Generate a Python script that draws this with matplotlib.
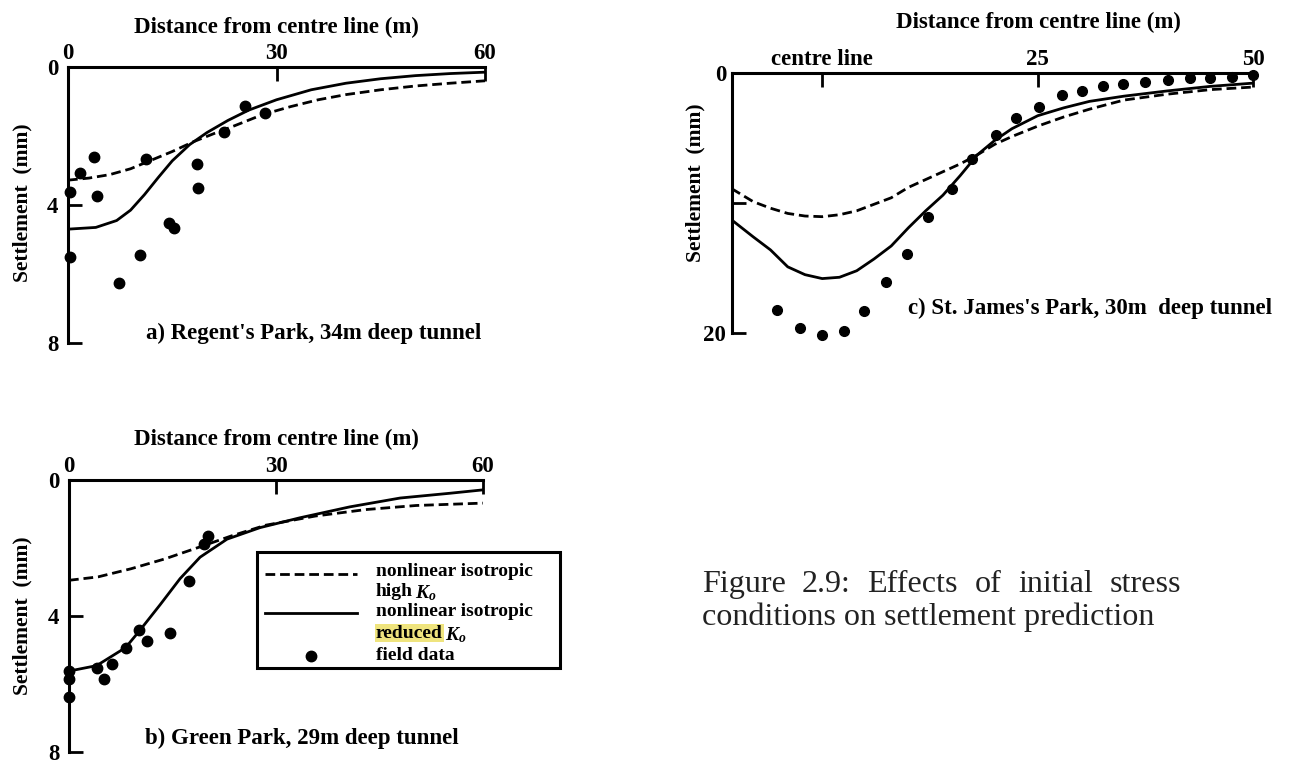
import matplotlib
matplotlib.use("Agg")
import matplotlib.pyplot as plt
from matplotlib.patches import Rectangle

plt.rcParams['font.family'] = ['Liberation Serif', 'DejaVu Serif']
plt.rcParams['font.weight'] = 'bold'
plt.rcParams['mathtext.fontset'] = 'custom'
plt.rcParams['mathtext.it'] = 'Liberation Serif:italic:bold'
plt.rcParams['mathtext.rm'] = 'Liberation Serif:bold'
plt.rcParams['lines.scale_dashes'] = False

# ---------------- data ----------------
# a) Regent's Park
a_solid_x = [0, 4, 7, 9, 11, 13, 15, 17.5, 20, 23, 26, 30, 35, 40, 45, 50, 55, 60]
a_solid_y = [4.7, 4.65, 4.45, 4.15, 3.7, 3.2, 2.72, 2.25, 1.9, 1.55, 1.25, 0.95, 0.66, 0.47, 0.34, 0.25, 0.19, 0.15]
a_dash_x = [0, 3, 6, 9, 12, 15, 18, 21, 24, 28, 32, 36, 40, 45, 50, 55, 60]
a_dash_y = [3.28, 3.22, 3.12, 2.95, 2.7, 2.45, 2.17, 1.93, 1.7, 1.38, 1.15, 0.95, 0.8, 0.66, 0.55, 0.47, 0.4]
a_pts_x = [0.3, 1.7, 3.8, 4.2, 11.2, 0.3, 10.3, 7.3, 14.6, 15.2, 18.5, 18.7, 22.4, 25.5, 28.4]
a_pts_y = [3.62, 3.07, 2.6, 3.74, 2.67, 5.5, 5.45, 6.25, 4.51, 4.68, 2.82, 3.5, 1.89, 1.13, 1.34]

# b) Green Park
b_solid_x = [0, 4, 8.2, 10.2, 13.2, 16.1, 19, 22.9, 27.7, 33.5, 40.7, 48, 55.2, 60]
b_solid_y = [5.62, 5.46, 4.93, 4.44, 3.67, 2.9, 2.27, 1.74, 1.4, 1.11, 0.79, 0.53, 0.39, 0.29]
b_dash_x = [0, 4.2, 9, 13.9, 18.8, 23.6, 28.5, 35.7, 43, 50.3, 60]
b_dash_y = [2.95, 2.85, 2.61, 2.32, 1.98, 1.64, 1.33, 1.06, 0.87, 0.75, 0.68]
b_pts_x = [0, 0, 0, 4.0, 5.1, 6.2, 8.2, 10.2, 11.3, 14.7, 17.4, 19.6, 20.2]
b_pts_y = [5.62, 5.85, 6.38, 5.53, 5.85, 5.41, 4.93, 4.41, 4.73, 4.5, 2.98, 1.88, 1.66]

# c) St. James's Park
c_solid_x = [-10.5, -8, -6, -4, -2, 0, 2, 4, 6, 8, 10, 12, 14, 16, 18, 20, 22, 25, 28, 31, 35, 40, 45, 50]
c_solid_y = [11.3, 12.6, 13.6, 14.9, 15.5, 15.8, 15.7, 15.2, 14.3, 13.3, 11.9, 10.6, 9.4, 7.9, 6.3, 5.2, 4.3, 3.3, 2.7, 2.2, 1.8, 1.4, 1.05, 0.8]
c_dash_x = [-10.5, -8, -6, -4, -2, 0, 2, 4, 6, 8, 10, 12, 14, 16, 18, 20, 22, 25, 28, 31, 35, 40, 45, 50]
c_dash_y = [8.9, 9.9, 10.4, 10.8, 11.0, 11.05, 10.9, 10.6, 10.1, 9.6, 8.8, 8.2, 7.6, 7.0, 6.3, 5.5, 4.9, 4.1, 3.4, 2.8, 2.1, 1.65, 1.3, 1.1]
c_pts_x = [-5.3, -2.6, 0, 2.5, 4.8, 7.4, 9.8, 12.3, 15.0, 17.4, 20.1, 22.5, 25.2, 27.8, 30.1, 32.6, 34.9, 37.4, 40.1, 42.7, 45.0, 47.5, 50.0]
c_pts_y = [18.2, 19.6, 20.1, 19.8, 18.3, 16.1, 13.9, 11.1, 8.9, 6.6, 4.8, 3.5, 2.66, 1.71, 1.38, 1.02, 0.89, 0.69, 0.56, 0.43, 0.43, 0.3, 0.18]

ab_xticks = [0, 30, 60]
ab_xticklabels = ['0', '30', '60']
ab_yticks = [0, 4, 8]
ab_yticklabels = ['0', '4', '8']
c_xticks = [0, 25, 50]
c_xticklabels = ['centre line', '25', '50']
c_yticks = [0, 10, 20]
c_yticklabels = ['0', '', '20']

xlabel = 'Distance from centre line (m)'
ylabel = 'Settlement  (mm)'
title_a = "a) Regent's Park, 34m deep tunnel"
title_b = "b) Green Park, 29m deep tunnel"
title_c = "c) St. James's Park, 30m  deep tunnel"
leg_labels = ['nonlinear isotropic', 'high', 'nonlinear isotropic', 'reduced', 'field data']
caption_1 = "Figure 2.9: Effects of initial stress"
caption_2 = "conditions on settlement prediction"

# ---------------- figure ----------------
W, H = 1298, 764
fig = plt.figure(figsize=(W / 100, H / 100), dpi=100)

FS_TICK = 16.5
FS_XL = 16.5
FS_YL = 15.5
FS_TITLE = 16.5


def add_ax(l, t, r, b):
    return fig.add_axes([l / W, 1 - b / H, (r - l) / W, (b - t) / H])


def style(ax, xlim, ylim, xt, xtl, yt, ytl):
    ax.set_xlim(*xlim)
    ax.set_ylim(*ylim)
    ax.spines['right'].set_visible(False)
    ax.spines['bottom'].set_visible(False)
    for s in ('left', 'top'):
        ax.spines[s].set_linewidth(2.2)
    ax.xaxis.set_label_position('top')
    ax.tick_params(axis='x', top=True, bottom=False, labeltop=True, labelbottom=False)
    ax.set_xticks(xt, xtl)
    ax.set_yticks(yt, ytl)
    ax.tick_params(axis='both', direction='in', length=10, width=2.0, labelsize=FS_TICK)
    ax.tick_params(axis='x', pad=2)
    ax.tick_params(axis='y', pad=7)
    ax.set_xlabel(xlabel, fontsize=FS_XL, fontweight='bold')
    ax.set_ylabel(ylabel, fontsize=FS_YL, fontweight='bold')


LW = 2.0
DASH = (7, 3.5)
MS = 7.5

# a
axa = add_ax(68, 67, 485, 343)
style(axa, (0, 60), (8, 0), ab_xticks, ab_xticklabels, ab_yticks, ab_yticklabels)
axa.plot(a_solid_x, a_solid_y, color='black', lw=LW)
axa.plot(a_dash_x, a_dash_y, color='black', lw=LW, dashes=DASH)
axa.plot(a_pts_x, a_pts_y, 'o', color='black', ms=MS, clip_on=False)
axa.text(0.59, 0.036, title_a, transform=axa.transAxes, ha='center', va='center', fontsize=FS_TITLE)
axa.xaxis.set_label_coords(0.5, 1.122)
axa.yaxis.set_label_coords(-0.086, 0.51)

# b
axb = add_ax(69, 480, 483, 752)
style(axb, (0, 60), (8, 0), ab_xticks, ab_xticklabels, ab_yticks, ab_yticklabels)
axb.plot(b_solid_x, b_solid_y, color='black', lw=LW)
axb.plot(b_dash_x, b_dash_y, color='black', lw=LW, dashes=DASH)
axb.plot(b_pts_x, b_pts_y, 'o', color='black', ms=MS, clip_on=False)
axb.text(0.562, 0.05, title_b, transform=axb.transAxes, ha='center', va='center', fontsize=FS_TITLE)
axb.xaxis.set_label_coords(0.5, 1.129)
axb.yaxis.set_label_coords(-0.089, 0.5)


# legend in b (drawn in pixel layout of figure)
def fpx(px, py):
    return (px / W, 1 - py / H)


fig.patches.append(Rectangle(fpx(257, 668), (560 - 257) / W, (668 - 552) / H,
                             transform=fig.transFigure, fill=False, lw=2.2, ec='black'))
fig.lines.append(plt.Line2D([265 / W, 357 / W], [1 - 574 / H] * 2, transform=fig.transFigure,
                            color='black', lw=LW, dashes=DASH))
fig.lines.append(plt.Line2D([265 / W, 357 / W], [1 - 613 / H] * 2, transform=fig.transFigure,
                            color='black', lw=LW))
fig.lines.append(plt.Line2D([311 / W], [1 - 656 / H], transform=fig.transFigure,
                            color='black', marker='o', ms=MS, ls='none'))
LFS = 14
fig.text(*fpx(376, 572), leg_labels[0], fontsize=LFS, va='center')
t_high = fig.text(*fpx(376, 591), leg_labels[1], fontsize=LFS, va='center')
fig.text(*fpx(376, 612), leg_labels[2], fontsize=LFS, va='center')
t_red = fig.text(*fpx(376, 633), leg_labels[3], fontsize=LFS, va='center',
                 bbox=dict(fc='#efe47e', ec='none', pad=0.5))
fig.text(*fpx(376, 655), leg_labels[4], fontsize=LFS, va='center')
for t in (t_high, t_red):
    ann = plt.Annotation(r'$\,K_o$', xy=(1, 0.4), xycoords=t, va='center', ha='left', fontsize=LFS)
    ann.set_figure(fig)
    fig.texts.append(ann)

# c
axc = add_ax(731.7, 72.7, 1253.3, 333.3)
style(axc, (-10.5, 50), (20, 0), c_xticks, c_xticklabels, c_yticks, c_yticklabels)
axc.plot(c_solid_x, c_solid_y, color='black', lw=LW)
axc.plot(c_dash_x, c_dash_y, color='black', lw=LW, dashes=DASH)
axc.plot(c_pts_x, c_pts_y, 'o', color='black', ms=MS - 0.5, clip_on=False)
axc.text(0.687, 0.097, title_c, transform=axc.transAxes, ha='center', va='center', fontsize=FS_TITLE)
axc.xaxis.set_label_coords(0.589, 1.17)
axc.yaxis.set_label_coords(-0.05, 0.577)
axc.tick_params(axis='y', pad=4)

# caption (justified first line)
fig.canvas.draw()
renderer = fig.canvas.get_renderer()
probe = fig.text(0, 0, caption_2, fontsize=20, fontweight='normal')
w2 = probe.get_window_extent(renderer).width
probe.remove()
cfs = 20 * (1153.3 - 701.7) / w2
fig.text(701.7 / W, 1 - 625 / H, caption_2, fontsize=cfs, fontweight='normal', va='baseline',
         color='#222222')
words = caption_1.split(' ')
widths = []
for wd in words:
    p = fig.text(0, 0, wd, fontsize=cfs, fontweight='normal')
    widths.append(p.get_window_extent(renderer).width)
    p.remove()
gap = ((1180.7 - 701.7) - sum(widths)) / (len(words) - 1)
xpos = 701.7
for wd, wdt in zip(words, widths):
    fig.text(xpos / W, 1 - 591.7 / H, wd, fontsize=cfs, fontweight='normal', va='baseline',
             color='#222222')
    xpos += wdt + gap

fig.savefig('out.png', dpi=100)
